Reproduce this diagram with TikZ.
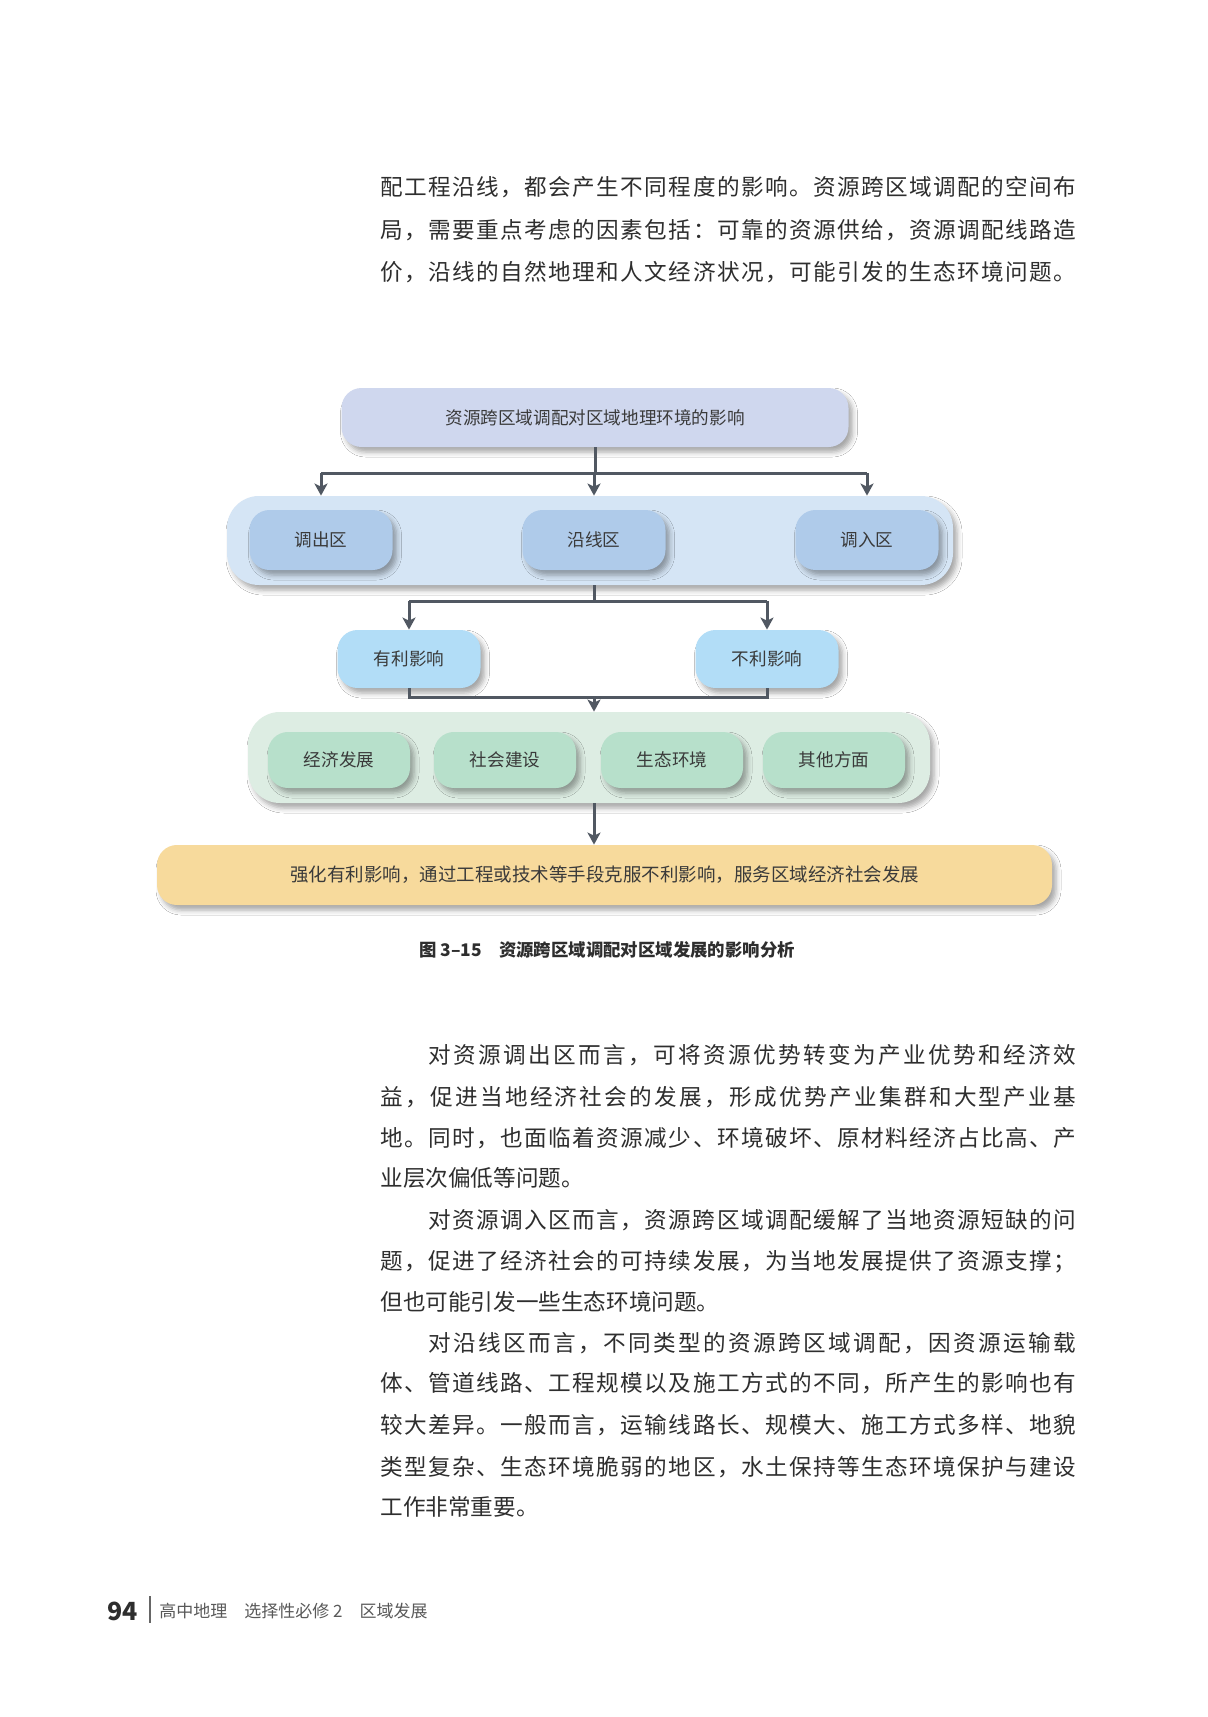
\documentclass[tikz,border=0pt]{standalone}
\usepackage{fontspec}
\setmainfont{Noto Sans CJK SC}
\usepackage{xcolor}
\usepackage{tikz}
\usetikzlibrary{positioning, arrows.meta, shadows.blur}
% stretchable glue between CJK characters, for justified lines
\XeTeXinterchartokenstate=1
\count255="3000
\loop \XeTeXcharclass\count255=7 \advance\count255 by 1 \ifnum\count255<"A000 \repeat
\count255="FF00
\loop \XeTeXcharclass\count255=7 \advance\count255 by 1 \ifnum\count255<"FFF0 \repeat
\XeTeXinterchartoks 7 7 = {\hskip 0pt plus 1pt\relax}

\definecolor{topfill}{HTML}{CFD7EE}
\definecolor{bandblue}{HTML}{D5E5F5}
\definecolor{zoneblue}{HTML}{AFCBEA}
\definecolor{effblue}{HTML}{B2DDF7}
\definecolor{bandgreen}{HTML}{DDEDE3}
\definecolor{aspgreen}{HTML}{B7E0CB}
\definecolor{goalfill}{HTML}{F7DA9C}
\definecolor{linkgray}{HTML}{515862}
\definecolor{labelgray}{HTML}{3A3A3A}
\definecolor{bodygray}{HTML}{2E2E2E}

\newcommand\txtfont{\fontsize{11.3}{14}\selectfont}
\newcommand\fullline[1]{\makebox[348pt][s]{#1}}
\newcommand\indline[1]{\makebox[324pt][s]{#1}}

\tikzset{
  box/.style={rounded corners=10pt, inner sep=0pt, text=labelgray,
    font=\fontsize{8.8}{10}\selectfont,
    blur shadow={shadow xshift=2pt, shadow yshift=-2.5pt, shadow blur radius=2.5pt, shadow opacity=35}},
  band/.style={box, rounded corners=16pt},
  link/.style={draw=linkgray, line width=1.5pt},
  arr/.style={link, -{Stealth[length=6pt, width=6.5pt, inset=1.5pt]}},
  txtline/.style={anchor=west, inner sep=0pt, text=bodygray, font=\txtfont},
}

\begin{document}
\begin{tikzpicture}[x=0.5pt, y=-0.5pt]
\path[fill=white, use as bounding box] (0,0) rectangle (1207,1717);

% Text above the figure
\node[txtline] (p1a) at (380,187) {\fullline{配工程沿线，都会产生不同程度的影响。资源跨区域调配的空间布}};
\node[txtline] (p1b) at (380,230) {\fullline{局，需要重点考虑的因素包括：可靠的资源供给，资源调配线路造}};
\node[txtline] (p1c) at (380,272) {\fullline{价，沿线的自然地理和人文经济状况，可能引发的生态环境问题。}};

% Top box
\node[box, fill=topfill, minimum width=253.5pt, minimum height=29.5pt] (top) at (595,417.5) {资源跨区域调配对区域地理环境的影响};

% Three zones
\node[band, fill=bandblue, minimum width=363pt, minimum height=44.5pt] (zones) at (590,540.5) {};
\foreach \n/\x/\lbl in {out/321/调出区, along/594/沿线区, inz/867/调入区}{
\node[box, fill=zoneblue, minimum width=71.5pt, minimum height=30pt] (\n) at (\x,540) {\lbl};
}
\draw[link] (top.south) -- ++(0,26) coordinate (j1);
\draw[link] (out |- j1) -- (inz |- j1);
\foreach \n in {out, along, inz}{
\draw[arr] (\n |- j1) -- (\n |- zones.north);
}

% Favourable and unfavourable
\node[box, fill=effblue, minimum width=71.5pt, minimum height=29pt] (pos) at (409,659) {有利影响};
\node[box, fill=effblue, minimum width=71.5pt, minimum height=29pt] (neg) at (767,659) {不利影响};
\draw[link] (along |- zones.south) -- ++(0,16) coordinate (j2);
\draw[link] (pos |- j2) -- (neg |- j2);
\draw[arr] (pos |- j2) -- (pos.north);
\draw[arr] (neg |- j2) -- (neg.north);

% Aspects
\node[band, fill=bandgreen, minimum width=341pt, minimum height=45.5pt] (aspects) at (589,757.5) {};
\foreach \n/\x/\lbl in {eco/339/经济发展, soc/505/社会建设, env/672/生态环境, oth/834/其他方面}{
\node[box, fill=aspgreen, minimum width=71pt, minimum height=28pt] (\n) at (\x,760) {\lbl};
}
\draw[link] (pos.south) -- ++(0,9) coordinate (j3) -| (neg.south);
\draw[arr] (along |- j3) -- (along |- aspects.north);

% Goal
\node[box, fill=goalfill, minimum width=447.5pt, minimum height=30pt, font=\fontsize{9.25}{11}\selectfont] (goal) at (604.5,875) {强化有利影响，通过工程或技术等手段克服不利影响，服务区域经济社会发展};
\draw[arr] (along |- aspects.south) -- (along |- goal.north);

% Caption
\node[font=\fontsize{8.7}{10}\bfseries, text=bodygray, inner sep=0pt] (cap) at (607,950) {图 3–15\quad 资源跨区域调配对区域发展的影响分析};

% Text below the figure
\node[txtline] (p2a) at (428,1055) {\indline{对资源调出区而言，可将资源优势转变为产业优势和经济效}};
\node[txtline] (p2b) at (380,1097) {\fullline{益，促进当地经济社会的发展，形成优势产业集群和大型产业基}};
\node[txtline] (p2c) at (380,1138) {\fullline{地。同时，也面临着资源减少、环境破坏、原材料经济占比高、产}};
\node[txtline] (p2d) at (380,1178) {业层次偏低等问题。};
\node[txtline] (p3a) at (428,1220) {\indline{对资源调入区而言，资源跨区域调配缓解了当地资源短缺的问}};
\node[txtline] (p3b) at (380,1262) {\fullline{题，促进了经济社会的可持续发展，为当地发展提供了资源支撑；}};
\node[txtline] (p3c) at (380,1302) {但也可能引发一些生态环境问题。};
\node[txtline] (p4a) at (428,1343) {\indline{对沿线区而言，不同类型的资源跨区域调配，因资源运输载}};
\node[txtline] (p4b) at (380,1383) {\fullline{体、管道线路、工程规模以及施工方式的不同，所产生的影响也有}};
\node[txtline] (p4c) at (380,1425) {\fullline{较大差异。一般而言，运输线路长、规模大、施工方式多样、地貌}};
\node[txtline] (p4d) at (380,1467) {\fullline{类型复杂、生态环境脆弱的地区，水土保持等生态环境保护与建设}};
\node[txtline] (p4e) at (380,1507) {工作非常重要。};

% Footer
\node[anchor=east, inner sep=0pt, font=\fontsize{12.5}{14}\bfseries, text=bodygray] (pageno) at (138,1611) {94};
\draw[line width=0.6pt, black!60] (150,1596) -- (150,1623);
\node[anchor=west, inner sep=0pt, font=\fontsize{8.5}{10}\selectfont, text=black!65] (book) at (159,1611) {高中地理\quad 选择性必修 2\quad 区域发展};
\end{tikzpicture}
\end{document}
